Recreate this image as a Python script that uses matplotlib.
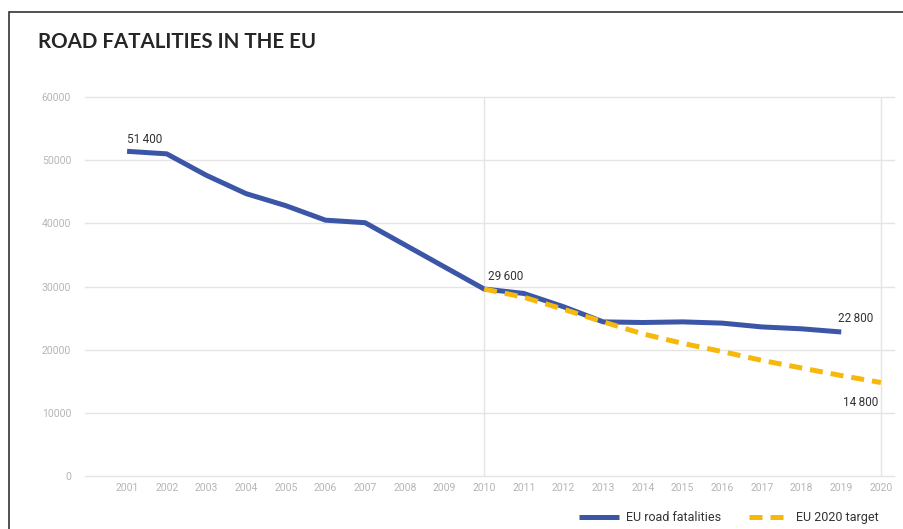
#!/usr/bin/env python3
# Road fatalities in the EU vs. the 2020 target line.

import matplotlib
matplotlib.use("Agg")
import matplotlib.pyplot as plt
from matplotlib.patches import Rectangle

years = list(range(2001, 2020))
fatalities = [51400, 51000, 47600, 44700, 42800, 40500, 40100, 36600, 33100,
              29600, 28900, 26800, 24400, 24300, 24400, 24200, 23600, 23300, 22800]

target_years = list(range(2010, 2021))
target = [29600, 28300, 26400, 24400, 22500, 21000, 19700, 18300, 17100, 15900, 14800]

xtick_years = list(range(2001, 2021))
ytick_values = [0, 10000, 20000, 30000, 40000, 50000, 60000]

BLUE = "#3b56a6"
YELLOW = "#f6b80a"
GRID = "#e4e4e4"
TICK = "#b5b5b5"
NARROW = ["Roboto", "DejaVu Sans"]

fig = plt.figure(figsize=(9.04, 5.29), dpi=100)
ax = fig.add_axes([85 / 904, 1 - 476 / 529, 809 / 904, 379 / 529])

ax.plot(years, fatalities, color=BLUE, lw=3.6, solid_capstyle="butt",
        solid_joinstyle="round", zorder=3, label="EU road fatalities")
ax.plot(target_years, target, color=YELLOW, lw=3.6, dashes=(2.6, 1.6),
        dash_capstyle="butt", zorder=4, label="EU 2020 target")

ax.set_xlim(1999.94, 2020.33)
ax.set_ylim(0, 60000)
ax.set_yticks(ytick_values)
ax.set_yticklabels([str(v) for v in ytick_values])
ax.set_xticks(xtick_years)
ax.set_xticklabels([str(y) for y in xtick_years])
ax.tick_params(length=0, labelsize=7.5, labelcolor=TICK, pad=5)
ax.tick_params(axis="y", pad=10)
for lab in ax.get_xticklabels() + ax.get_yticklabels():
    lab.set_family(NARROW)

for v in ytick_values:
    ax.axhline(v, color=GRID, lw=1.0, zorder=1, clip_on=False)
for x in (2010, 2020):
    ax.axvline(x, color=GRID, lw=1.0, zorder=1)
for s in ax.spines.values():
    s.set_visible(False)

# value labels
lab_kw = dict(fontsize=8.5, color="#333333", family=["Roboto", "DejaVu Sans"])
ax.annotate("51\u2009400", (2001, 51400), xytext=(0, 4), textcoords="offset points",
            ha="left", va="bottom", **lab_kw)
ax.annotate("29\u2009600", (2010, 29600), xytext=(3, 4), textcoords="offset points",
            ha="left", va="bottom", **lab_kw)
ax.annotate("22\u2009800", (2019, 22800), xytext=(-2, 5), textcoords="offset points",
            ha="left", va="bottom", **lab_kw)
ax.annotate("14\u2009800", (2020, 14800), xytext=(-2, -10), textcoords="offset points",
            ha="right", va="top", **lab_kw)

fig.text(38 / 904, 1 - 48 / 529, "ROAD FATALITIES IN THE EU", fontsize=14.8,
         color="#262626", family=["Lato", "DejaVu Sans"], weight="bold",
         ha="left", va="baseline")

leg = fig.legend(loc="lower right", bbox_to_anchor=(0.985, -0.012), ncol=2,
                 frameon=False, handlelength=3.2, columnspacing=2.2,
                 handletextpad=0.6, prop={"family": NARROW, "size": 9})
for t in leg.get_texts():
    t.set_color("#333333")

# frame border (cropped at right and bottom)
fig.patches.append(Rectangle((9 / 904, -0.05), 1.2, 1 - 12 / 529 + 0.05,
                             transform=fig.transFigure, fill=False,
                             edgecolor="#333333", lw=1.2))

fig.savefig("out.png", dpi=100)
